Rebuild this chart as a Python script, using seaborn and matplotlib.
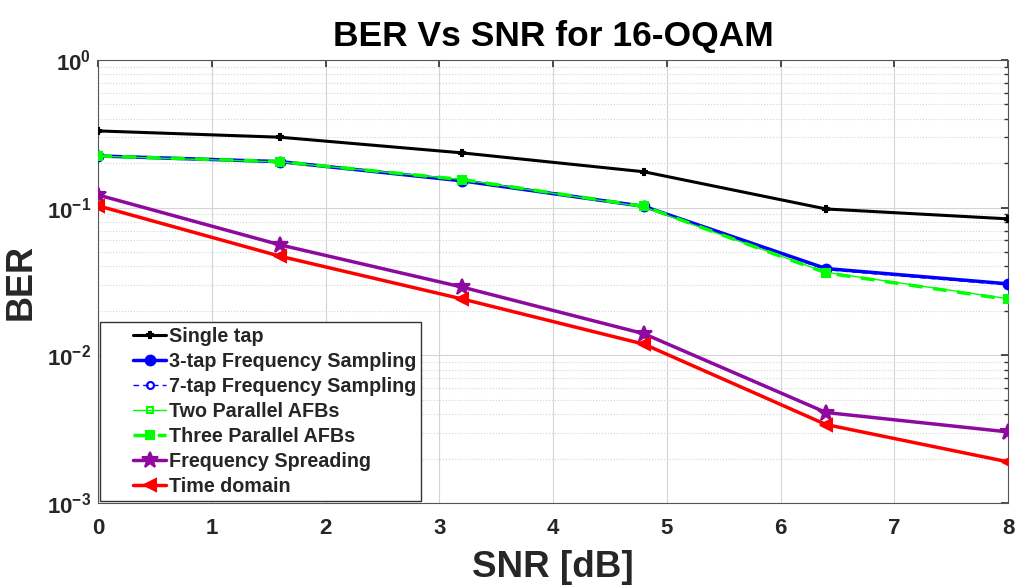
import matplotlib
matplotlib.use("Agg")
import matplotlib.pyplot as plt
import seaborn as sns
import pandas as pd
import numpy as np
from matplotlib.ticker import LogLocator, NullFormatter, FuncFormatter
from matplotlib.legend_handler import HandlerLine2D
from matplotlib.lines import Line2D

snr = [0, 1.6, 3.2, 4.8, 6.4, 8]
single_tap = [0.331, 0.300, 0.235, 0.175, 0.098, 0.084]
tap3_fs = [0.224, 0.205, 0.152, 0.102, 0.0387, 0.0305]
tap7_fs = [0.226, 0.207, 0.154, 0.103, 0.0380, 0.0300]
two_afb = [0.223, 0.204, 0.155, 0.101, 0.0365, 0.0242]
three_afb = [0.224, 0.205, 0.155, 0.102, 0.0362, 0.0239]
freq_spread = [0.122, 0.056, 0.029, 0.014, 0.0041, 0.00303]
time_domain = [0.103, 0.0469, 0.0241, 0.0119, 0.0034, 0.0019]

series_names = ["Single tap", "3-tap Frequency Sampling", "7-tap Frequency Sampling",
                "Two Parallel AFBs", "Three Parallel AFBs", "Frequency Spreading", "Time domain"]
series_vals = [single_tap, tap3_fs, tap7_fs, two_afb, three_afb, freq_spread, time_domain]

styles = {
    "Single tap": dict(color="black", lw=2.2, ls="-", marker="P", ms=4, mfc="black"),
    "3-tap Frequency Sampling": dict(color="blue", lw=2.5, ls="-", marker="o", ms=7, mfc="blue"),
    "7-tap Frequency Sampling": dict(color="blue", lw=1.0, ls=(0, (4, 3)), marker="o", ms=5, mfc="none"),
    "Two Parallel AFBs": dict(color="#00ff00", lw=1.0, ls="-", marker="s", ms=4, mfc="none"),
    "Three Parallel AFBs": dict(color="#00ff00", lw=2.5, ls=(0, (4, 3)), marker="s", ms=6, mfc="#00ff00"),
    "Frequency Spreading": dict(color="#8e0a9e", lw=2.5, ls="-", marker="*", ms=12, mfc="#8e0a9e"),
    "Time domain": dict(color="red", lw=2.5, ls="-", marker="<", ms=8, mfc="red"),
}

sns.set_theme(style="white")
plt.rcParams['font.family'] = ['Liberation Sans', 'DejaVu Sans']
plt.rcParams['mathtext.fontset'] = 'custom'
plt.rcParams['mathtext.rm'] = 'Liberation Sans:bold'
plt.rcParams['mathtext.bf'] = 'Liberation Sans:bold'
plt.rcParams['mathtext.it'] = 'Liberation Sans:bold'
plt.rcParams['axes.unicode_minus'] = False


class RightHandler(HandlerLine2D):
    def __init__(self, frac, **kw):
        super().__init__(**kw)
        self.frac = frac

    def create_artists(self, legend, orig_handle, xdescent, ydescent, width, height, fontsize, trans):
        off = width * self.frac
        return super().create_artists(legend, orig_handle, xdescent - off, ydescent,
                                      width - off, height, fontsize, trans)


fig = plt.figure(figsize=(10.15, 5.85), dpi=100)
ax = fig.add_axes([98/1015, 1 - 503/585, (1008-98)/1015, (503-60)/585])

for name, vals in zip(series_names, series_vals):
    df = pd.DataFrame({"SNR": snr, "BER": vals})
    st = styles[name]
    sns.lineplot(data=df, x="SNR", y="BER", ax=ax, label=name, color=st["color"],
                 linewidth=st["lw"], linestyle=st["ls"], marker=st["marker"],
                 markersize=st["ms"], markerfacecolor=st["mfc"],
                 markeredgecolor=st["color"], markeredgewidth=1.5, zorder=3)

ax.set_yscale("log")
ax.set_xlim(0, 8)
ax.set_ylim(1e-3, 1)
ax.set_xticks(range(0, 9))
ax.yaxis.set_major_locator(LogLocator(base=10, numticks=10))
ax.yaxis.set_minor_locator(LogLocator(base=10, subs=np.arange(2, 10), numticks=20))
ax.yaxis.set_minor_formatter(NullFormatter())
ax.yaxis.set_major_formatter(FuncFormatter(
    lambda v, p: r"$\mathbf{10^{%d}}$" % int(round(np.log10(v))) if v > 0 else ""))

ax.grid(True, which="major", color="#d4d4d4", linewidth=0.8, linestyle="-")
ax.grid(True, which="minor", axis="y", color="#d4d4d4", linewidth=0.8, linestyle=":")
ax.set_axisbelow(True)

for sp in ax.spines.values():
    sp.set_color("#555555")
    sp.set_linewidth(0.8)

ax.tick_params(which="both", direction="in", top=True, right=True, colors="#333333",
               labelcolor="#262626")
ax.tick_params(which="major", length=5)
ax.tick_params(axis="x", which="major", labelsize=16, pad=11)
ax.tick_params(axis="y", which="major", labelsize=16, pad=5)
ax.tick_params(which="minor", length=3)
for lab in ax.get_xticklabels() + ax.get_yticklabels():
    lab.set_fontweight("bold")

ax.set_title("BER Vs SNR for 16-OQAM", fontsize=25.5, fontweight="bold", pad=10, color="black")
ax.set_xlabel("SNR [dB]", fontsize=26.5, fontweight="bold", color="#262626", labelpad=8)
ax.set_ylabel("BER", fontsize=26, fontweight="bold", color="#262626", labelpad=6)

leg = ax.legend(loc="lower left", prop={"weight": "bold", "size": 14.2},
                frameon=True, fancybox=False, edgecolor="#333333", framealpha=1,
                handlelength=3.1, borderaxespad=0.12, labelspacing=0.3, borderpad=0.25,
                handletextpad=0.12, handler_map={Line2D: RightHandler(0.45)})
leg.get_frame().set_linewidth(1.0)

fig.savefig("out.png", dpi=100)
